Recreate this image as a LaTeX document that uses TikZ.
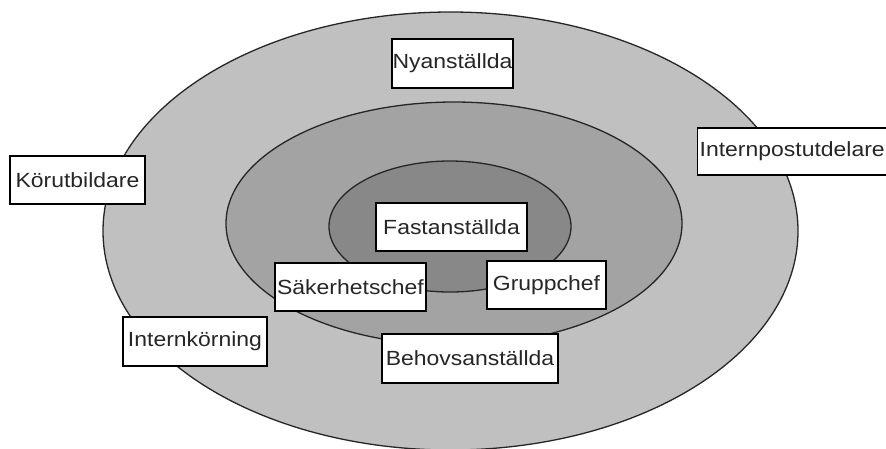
\documentclass[tikz,border=0pt]{standalone}
\usepackage{fontspec}
\setmainfont{Liberation Sans}[FakeStretch=1.12]
\definecolor{outerring}{HTML}{C0C0C0}
\definecolor{middlering}{HTML}{A3A3A3}
\definecolor{innerring}{HTML}{888888}
\tikzset{
  ring/.style={draw=black!85, line width=1.3pt},
  lbl/.style={draw=black, fill=white, line width=1.3pt, rectangle, inner sep=0pt,
    font=\fontsize{20.5}{24}\selectfont, text=black!85},
}
\begin{document}
\begin{tikzpicture}[x=1pt,y=-1pt]
\clip (0,0) rectangle (886,448);
\fill[white] (0,0) rectangle (886,448);
\draw[ring, fill=outerring] (450.5,231) ellipse [x radius=347.5pt, y radius=219pt];
\draw[ring, fill=middlering] (454,223.5) ellipse [x radius=228pt, y radius=121.5pt];
\draw[ring, fill=innerring] (450,226.5) ellipse [x radius=121pt, y radius=65.5pt];
\node[lbl, minimum width=121pt, minimum height=49pt] (nyan) at (452.5,63.5) {Nyanställda};
\node[lbl, anchor=west, minimum height=47pt, text width=200pt, align=left, inner xsep=2pt] (intpost) at (697,151.5) {Internpostutdelare};
\node[lbl, minimum width=135pt, minimum height=48pt] (korut) at (77.5,180) {Körutbildare};
\node[lbl, minimum width=151pt, minimum height=48pt] (fast) at (451.5,227) {Fastanställda};
\node[lbl, minimum width=151pt, minimum height=48pt] (saker) at (350.5,287) {Säkerhetschef};
\node[lbl, minimum width=119pt, minimum height=48pt] (grupp) at (546.5,285) {Gruppchef};
\node[lbl, minimum width=144pt, minimum height=49pt] (intkor) at (195,341.5) {Internkörning};
\node[lbl, minimum width=176pt, minimum height=49pt] (behov) at (470,358.5) {Behovsanställda};
\end{tikzpicture}
\end{document}
